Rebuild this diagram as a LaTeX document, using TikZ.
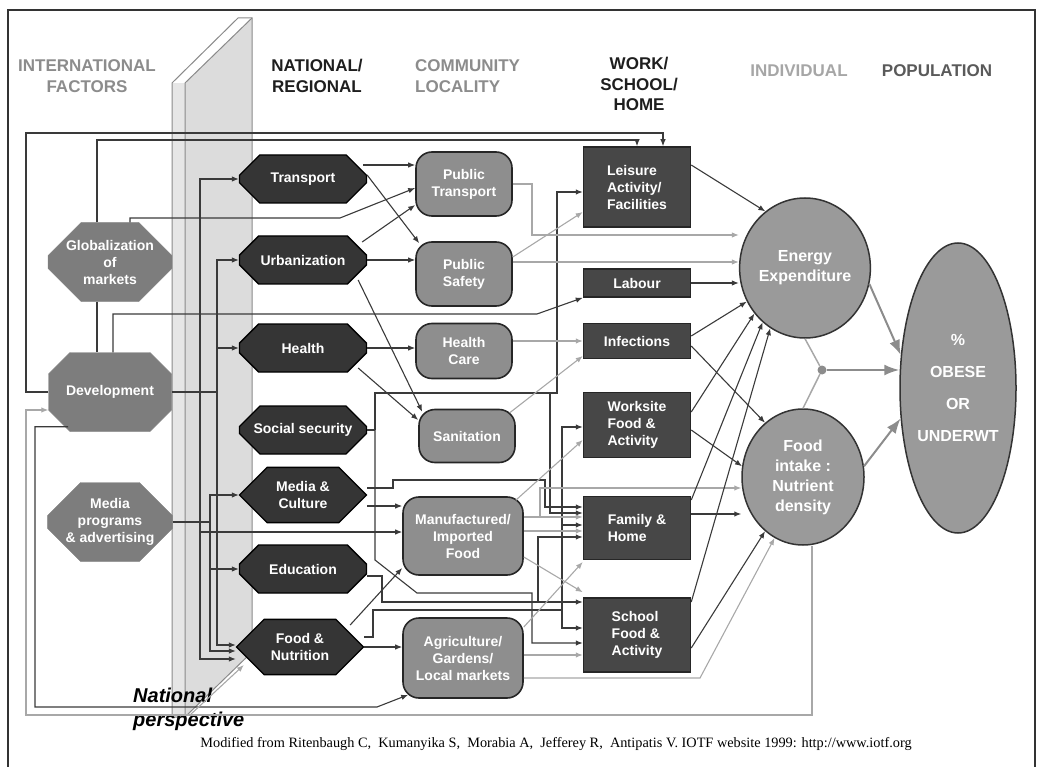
\documentclass[tikz,border=0pt]{standalone}
\usepackage{fontspec}
\setmainfont{Liberation Serif}
\setsansfont{Liberation Sans}
\usetikzlibrary{arrows.meta,shapes.misc,shapes.geometric}

\definecolor{natfill}{HTML}{353535}
\definecolor{wshfill}{HTML}{474747}
\definecolor{commfill}{HTML}{8E8E8E}
\definecolor{intlfill}{HTML}{7D7D7D}
\definecolor{indfill}{HTML}{9A9A9A}
\definecolor{linedark}{HTML}{3A3A3A}
\definecolor{linegray}{HTML}{A8A8A8}
\definecolor{biggray}{HTML}{8C8C8C}
\definecolor{wallface}{HTML}{DCDCDC}
\definecolor{wallstrip}{HTML}{E6E6E6}
\definecolor{walledge}{HTML}{8A8A8A}
\definecolor{hdrgray}{HTML}{8C8C8C}
\definecolor{hdrlight}{HTML}{A6A6A6}
\definecolor{hdrmid}{HTML}{5A5A5A}
\definecolor{hdrdark}{HTML}{1E1E1E}

\begin{document}
\begin{tikzpicture}[x=1pt, y=-1pt,
    arrow/.style={-{Latex[length=7pt,width=5.5pt]}, draw=linedark, line width=1.1pt},
    garrow/.style={arrow, draw=linegray},
    link/.style={draw=linedark, line width=1.1pt},
    glink/.style={link, draw=linegray},
    bigarrow/.style={-{Latex[length=15pt,width=11pt]}, draw=biggray, line width=2pt},
    boxtext/.style={text=white, font=\sffamily\bfseries\fontsize{14}{17}\selectfont, align=center, inner sep=0pt},
    intl/.style={boxtext, chamfered rectangle, chamfered rectangle xsep=18pt, chamfered rectangle ysep=15pt,
        fill=intlfill, draw=intlfill, minimum width=123pt, minimum height=79pt},
    nat/.style={boxtext, chamfered rectangle, chamfered rectangle xsep=14pt, chamfered rectangle ysep=14pt,
        fill=natfill, draw=black, line width=1.3pt, minimum width=127pt, minimum height=48pt},
    comm/.style={boxtext, rectangle, rounded corners=16pt, fill=commfill, draw=black!85, line width=1.6pt,
        minimum width=96pt},
    wsh/.style={boxtext, rectangle, fill=wshfill, draw=black!85, line width=1.5pt, minimum width=107pt},
    ind/.style={ellipse, fill=indfill, draw=black!80, line width=1.5pt, inner sep=0pt, text=white,
        font=\sffamily\bfseries\fontsize{16}{20}\selectfont, align=center},
    hdr/.style={font=\sffamily\bfseries\fontsize{17}{20.5}\selectfont, align=center, inner sep=0pt},
  ]
  \useasboundingbox (0,0) rectangle (1041,767);
  \draw[line width=1.3pt, black!80] (8,767) -- (8,10) -- (1035,10) -- (1035,767);

  % national perspective wall
  \fill[wallface] (185,83) -- (252,18) -- (252,652) -- (185,717) -- cycle;
  \fill[wallstrip] (172,83) rectangle (185,717);
  \draw[walledge, line width=1pt] (172,717) -- (172,83) -- (238,18) -- (252,18) -- (252,652) -- (185,717) -- cycle;
  \draw[walledge, line width=1pt] (185,717) -- (185,83) -- (252,18);

  % column headers
  \node[hdr, text=hdrgray] (hintl) at (87,76) {INTERNATIONAL\\FACTORS};
  \node[hdr, text=hdrdark] (hnat) at (317,76) {NATIONAL/\\REGIONAL};
  \node[hdr, text=hdrgray, align=left, anchor=west] (hcomm) at (415,76) {COMMUNITY\\LOCALITY};
  \node[hdr, text=hdrdark] (hwork) at (639,84) {WORK/\\SCHOOL/\\HOME};
  \node[hdr, text=hdrlight] (hind) at (799,71) {INDIVIDUAL};
  \node[hdr, text=hdrmid] (hpop) at (937,71) {POPULATION};

  % international factors
  \node[intl] (glob) at (110,262) {Globalization\\of\\markets};
  \node[intl] (dev) at (110,392) {Development};
  \node[intl] (mprog) at (110,522) {Media\\programs\\\& advertising};

  % national / regional
  \node[nat] (transport) at (303,179) {Transport};
  \node[nat] (urban) at (303,260) {Urbanization};
  \node[nat] (health) at (303,348) {Health};
  \node[nat] (socsec) at (303,430) {Social security};
  \node[nat] (mediac) at (303,495) {Media \&\\Culture};
  \node[nat] (educ) at (303,569) {Education};
  \node[nat] (foodnut) at (300,647) {Food \&\\Nutrition};

  % community / locality
  \node[comm, minimum height=64pt] (pubtr) at (464,184) {Public\\Transport};
  \node[comm, minimum height=64pt] (pubsaf) at (464,274) {Public\\Safety};
  \node[comm, minimum height=55pt] (hcare) at (464,351) {Health\\Care};
  \node[comm, minimum height=53pt] (sanit) at (467,436) {Sanitation};
  \node[comm, minimum width=120pt, minimum height=78pt] (manuf) at (463,536) {Manufactured/\\Imported\\Food};
  \node[comm, minimum width=120pt, minimum height=80pt] (agri) at (463,658) {Agriculture/\\Gardens/\\Local markets};

  % work / school / home
  \node[wsh, minimum height=80pt, align=left] (leisure) at (637,187) {Leisure\\Activity/\\Facilities};
  \node[wsh, minimum height=28pt] (labour) at (637,283) {Labour};
  \node[wsh, minimum height=35pt] (infect) at (637,341) {Infections};
  \node[wsh, minimum height=65pt, align=left] (worksite) at (637,425) {Worksite\\Food \&\\Activity};
  \node[wsh, minimum height=63pt, align=left] (family) at (637,528) {Family \&\\Home};
  \node[wsh, minimum height=74pt, align=left] (school) at (637,635) {School\\Food \&\\Activity};

  % individual / population
  \node[ind, minimum width=128pt, minimum height=140pt] (energy) at (805,268) {Energy\\Expenditure};
  \node[ind, minimum width=122pt, minimum height=136pt] (foodin) at (803,477) {Food\\intake :\\Nutrient\\density};
  \node[ind, minimum width=116pt, minimum height=290pt, font=\sffamily\bfseries\fontsize{16}{32}\selectfont] (obese) at (958,388) {\%\\OBESE\\OR\\UNDERWT};
  \node[circle, fill=biggray, inner sep=0pt, minimum size=9pt] (jn) at (822,370) {};

  \node[anchor=west, align=left, inner sep=0pt, font=\sffamily\bfseries\itshape\fontsize{20}{24}\selectfont] (natlabel) at (133,709) {National\\perspective};
  \node[font=\rmfamily\fontsize{14.3}{16}\selectfont] (caption) at (556,744) {Modified from Ritenbaugh C,\ \ Kumanyika S,\ \ Morabia A,\ \ Jefferey R,\ \ Antipatis V. IOTF website 1999: http://www.iotf.org};

  % international -> work/school/home, long top routes
  \draw[arrow] (dev.west) -| (26,133) -| ([xshift=26]leisure.north);
  \draw[arrow] ([xshift=-13]glob.north) |- (leisure.north |- 0,140) -- (leisure.north);
  \draw[link] ([xshift=-13]glob.south) -- ([xshift=-13]dev.north);
  \draw[arrow] ([xshift=20]glob.north) -- (130,218) -- (340,218) -- ([yshift=-4]pubtr.west);
  \draw[arrow] ([xshift=3]dev.north) |- (537,314) -- (labour.south west);

  % international -> national
  \coordinate (busA) at (200,392);
  \draw[arrow] (busA) |- (transport.west);
  \draw[arrow] (busA) |- ([yshift=-12]foodnut.west);
  \draw[arrow] (200,532) -- (manuf.west |- 0,532);
  \draw[link] (dev.east) -- (217,392);
  \draw[arrow] (217,392) |- (urban.west);
  \draw[arrow] (217,392) |- (health.west);
  \draw[arrow] (217,392) |- ([yshift=2]foodnut.west);
  \draw[link] (mprog.east) -- (210,522);
  \draw[arrow] (210,522) |- (mediac.west);
  \draw[arrow] (210,522) |- (educ.west);
  \draw[arrow] (210,522) |- ([yshift=-4]foodnut.west);
  \draw[arrow] ([xshift=-42,yshift=5]dev.south) -| (35,707) -- (377,707) -- ([xshift=6,yshift=4]agri.south west);

  % feedback from food intake
  \draw[garrow] ([xshift=9]foodin.south) |- (26,715) |- ([yshift=-18]dev.west);
  \draw[garrow] (190,715) -- ([xshift=8,yshift=-18]foodnut.west);

  % national -> community
  \draw[arrow] ([xshift=-4,yshift=14]transport.east) -- ([yshift=19]pubtr.west);
  \draw[arrow] ([yshift=4]transport.east) -- ([xshift=4,yshift=-2]pubsaf.north west);
  \draw[arrow] ([xshift=-5,yshift=18]urban.east) -- ([yshift=-21]pubtr.west);
  \draw[arrow] (urban.east) -- (urban.east -| pubsaf.west);
  \draw[arrow] ([xshift=-9,yshift=-20]urban.east) -- ([xshift=4,yshift=-3]sanit.north west);
  \draw[arrow] ([xshift=-9,yshift=-20]health.east) -- ([yshift=16]sanit.west);
  \draw[arrow] (health.east) -- (health.east -| hcare.west);

  % national -> work/school/home
  \draw[link] (socsec.east) -- (375,430);
  \draw[arrow] (375,430) |- (557,393) |- ([yshift=-5]leisure.west);
  \draw[arrow] (550,393) |- ([yshift=15]family.west);
  \draw[arrow] (375,430) -- (375,560) -- (417,593) -- (532,593) |- ([yshift=-8]school.west);
  \draw[arrow] ([yshift=7]mediac.east) -- (393,488) |- (545,480) |- ([yshift=21]family.west);
  \draw[arrow] ([yshift=-11]mediac.east) -- ([yshift=30]manuf.west);
  \draw[arrow] ([yshift=-7]educ.east) -- (382,576) |- ([yshift=33]school.west);
  \draw[arrow] (538,602) |- ([yshift=-9]family.west);
  \draw[arrow] ([yshift=10]foodnut.east) -- (373,637) |- (562,610) |- ([yshift=-2]worksite.west);
  \draw[arrow] (562,610) |- ([yshift=3]family.west);
  \draw[arrow] (562,610) |- ([yshift=7]school.west);
  \draw[arrow] (foodnut.east) -- (foodnut.east -| agri.west);
  \draw[arrow] ([xshift=-14,yshift=22]foodnut.east) -- ([yshift=-32]manuf.west);

  % community -> work/school/home and individual
  \draw[garrow] (pubtr.east) -- (532,184) |- (energy.west |- 0,235);
  \draw[garrow] ([yshift=12]pubsaf.east) -- (energy.west |- 0,262);
  \draw[garrow] ([yshift=17]pubsaf.east) -- ([yshift=-25]leisure.west);
  \draw[garrow] ([yshift=10]hcare.east) -- (infect.west);
  \draw[garrow] ([xshift=-6,yshift=-4]sanit.north east) -- ([yshift=-15]infect.west);
  \draw[garrow] ([xshift=-8,yshift=-4]manuf.north east) -- ([yshift=-15]worksite.west);
  \draw[garrow] ([yshift=19]manuf.east) -- (family.west |- 0,517);
  \draw[garrow] ([yshift=5]manuf.east) -- (family.west |- 0,531);
  \draw[garrow] (540,517) |- (foodin.west |- 0,488);
  \draw[garrow] ([yshift=-21]manuf.east) -- ([yshift=5]school.north west);
  \draw[garrow] ([yshift=31]agri.east) -- ([yshift=-34]family.west);
  \draw[garrow] ([yshift=3]agri.east) -- ([yshift=-20]school.west);
  \draw[garrow] ([yshift=-20]agri.east) -- (700,678) -- (foodin.245);

  % work/school/home -> individual
  \draw[arrow] ([yshift=22]leisure.east) -- (energy.125);
  \draw[arrow] (labour.east) -- (energy.west |- labour.east);
  \draw[arrow] ([yshift=5]infect.east) -- (energy.210);
  \draw[arrow] ([yshift=-5]infect.east) -- (foodin.125);
  \draw[arrow] ([yshift=13]worksite.east) -- (energy.222);
  \draw[arrow] ([yshift=-5]worksite.east) -- (foodin.170);
  \draw[arrow] ([yshift=28]family.east) -- (energy.232);
  \draw[arrow] ([yshift=14]family.east) -- (foodin.west |- 0,514);
  \draw[arrow] ([yshift=33]school.east) -- (energy.240);
  \draw[arrow] ([yshift=-13]school.east) -- (foodin.235);

  % individual -> population
  \draw[glink, line width=1.5pt] (energy.south) -- (jn);
  \draw[glink, line width=1.5pt] (foodin.north) -- (jn);
  \draw[bigarrow] (jn) -- (obese.west |- jn);
  \draw[bigarrow] (energy.346) -- (obese.150);
  \draw[bigarrow] (foodin.10) -- (obese.208);
\end{tikzpicture}
\end{document}
